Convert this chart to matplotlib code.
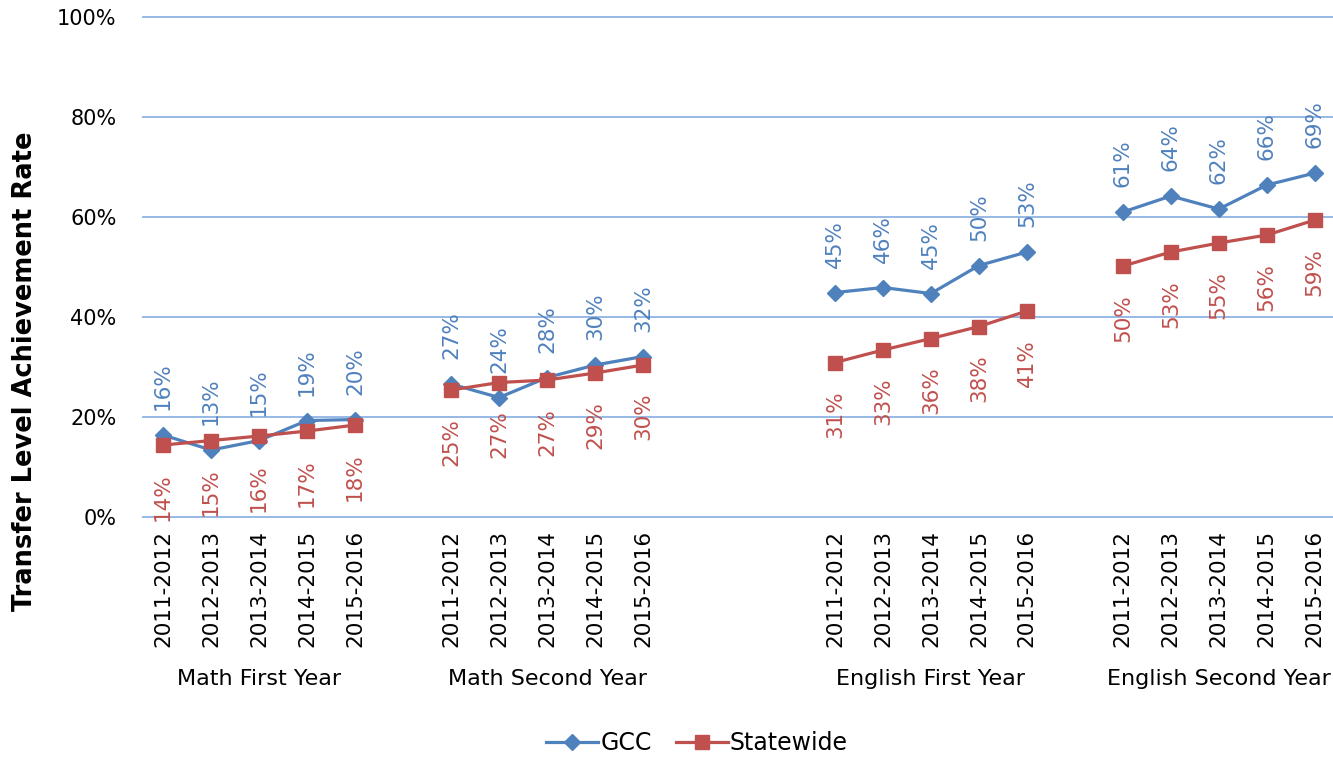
import numpy as np
import matplotlib.pyplot as plt
import matplotlib.transforms as mtransforms

# chart data
groups = ['Math First Year', 'Math Second Year', 'English First Year', 'English Second Year']
years = ['2011-2012', '2012-2013', '2013-2014', '2014-2015', '2015-2016']
gcc = [
    [16.4, 13.4, 15.3, 19.3, 19.5],
    [26.6, 23.9, 27.9, 30.4, 32.1],
    [44.9, 45.9, 44.7, 50.3, 53.0],
    [61.0, 64.2, 61.6, 66.4, 68.8],
]
statewide = [
    [14.4, 15.3, 16.2, 17.2, 18.4],
    [25.4, 26.9, 27.4, 28.8, 30.4],
    [30.9, 33.4, 35.7, 38.1, 41.2],
    [50.2, 53.0, 54.8, 56.4, 59.4],
]
# first category slot of each group (blank slots in between, as in the original)
group_start = [0, 6, 14, 20]

blue = '#4F81BD'
red = '#C0504D'
grid_col = '#8DB3E2'

plt.rcParams['font.family'] = 'DejaVu Sans'

fig = plt.figure(figsize=(13.33, 7.57), dpi=100)
ax = fig.add_axes([0.1073, 0.317, 0.8927, 0.6605])

for g in range(len(groups)):
    xs = [group_start[g] + i for i in range(len(years))]
    ax.plot(xs, gcc[g], color=blue, lw=2.3, marker='D', ms=8.5,
            label='GCC' if g == 0 else None, zorder=3, clip_on=False)
    ax.plot(xs, statewide[g], color=red, lw=2.3, marker='s', ms=10,
            label='Statewide' if g == 0 else None, zorder=3, clip_on=False)
    for x, v in zip(xs, gcc[g]):
        ax.annotate('%d%%' % round(v), (x, v), xytext=(0, 18), textcoords='offset points',
                    rotation=90, ha='center', va='bottom', color=blue, fontsize=15.5)
    for x, v in zip(xs, statewide[g]):
        ax.annotate('%d%%' % round(v), (x, v), xytext=(0, -20), textcoords='offset points',
                    rotation=90, ha='center', va='top', color=red, fontsize=15.5)

ticks = [group_start[g] + i for g in range(len(groups)) for i in range(len(years))]
ax.set_xticks(ticks)
ax.set_xticklabels(years * len(groups), rotation=90, fontsize=15.5)
ax.set_xlim(-0.42, 24.38)
ax.set_ylim(0, 100)
ax.set_yticks(range(0, 101, 20))
ax.set_yticklabels(['%d%%' % v for v in range(0, 101, 20)], fontsize=15)
ax.tick_params(axis='both', length=0)
ax.tick_params(axis='x', pad=9)
ax.tick_params(axis='y', pad=19)
for v in range(0, 101, 20):
    ax.axhline(v, color=grid_col, lw=1.3, zorder=0, clip_on=False)
for s in ax.spines.values():
    s.set_visible(False)

# group names below the year labels
trans = mtransforms.blended_transform_factory(ax.transData, fig.transFigure)
for g in range(len(groups)):
    ax.text(group_start[g] + 2, 1 - 679 / 757, groups[g], transform=trans,
            ha='center', va='center', fontsize=16)

fig.text(0.019, 0.51, 'Transfer Level Achievement Rate', rotation=90,
         ha='center', va='center', fontsize=18.5, fontweight='bold')

fig.legend(loc='center', bbox_to_anchor=(0.523, 1 - 743 / 757), ncol=2, frameon=False,
           fontsize=17, handlelength=2.2, handletextpad=0.1, columnspacing=1.0)

fig.savefig('out.png', dpi=100)
